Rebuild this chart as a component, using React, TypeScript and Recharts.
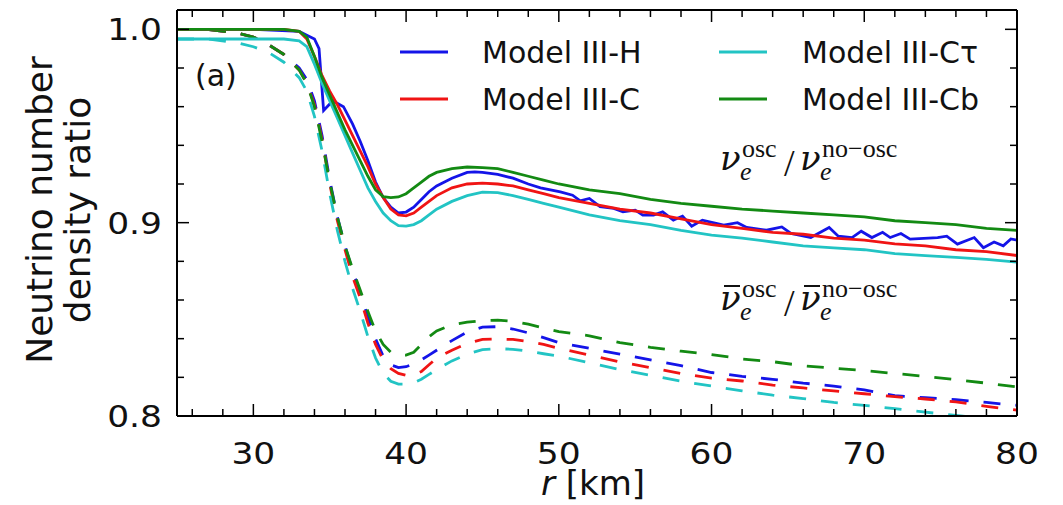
import React from "react";
import { LineChart, Line, XAxis, YAxis } from "recharts";

// radius grid shared by the smooth curves
const rGrid = [
  25, 27, 29, 30, 31, 32, 33,
  33.5, 34, 34.5, 35, 35.5, 36, 36.5, 37, 37.5, 38, 38.5, 39, 39.5, 40, 40.5, 41, 41.5, 42,
  43, 44, 45, 46, 47, 48, 49, 50,
  52, 54, 56, 58, 60, 62, 64, 66, 68, 70, 72, 74, 76, 78, 80,
];

// Model III-H nu_e is noisy, so it keeps its own sampling
const rH = [
  25, 30, 33, 33.5, 34, 34.3, 34.6, 35.2, 35.9, 36.5, 37, 37.5, 38, 38.5, 39, 39.5, 40, 40.5,
  41, 41.5, 42, 43, 44, 44.5, 45, 46, 47, 48, 48.8, 50.1, 50.9, 51.4, 52, 52.7, 53.6, 54.2,
  55, 55.5, 56.2, 56.8, 57.5, 58.1, 58.7, 59.4, 60.8, 61.7, 62.3, 63.6, 64.6, 65.2, 66.5,
  67.7, 68.3, 69.2, 69.8, 70.5, 71.2, 71.7, 72.4, 73, 74.8, 75.4, 76.1, 77.2, 77.8, 78.5,
  79.1, 79.6, 80,
];
const nuH = [
  1.0, 1.0, 0.999, 0.997, 0.995, 0.99, 0.958, 0.963, 0.96, 0.951, 0.942, 0.932, 0.921, 0.913,
  0.908, 0.905, 0.9055, 0.908, 0.912, 0.916, 0.919, 0.923, 0.926, 0.9263, 0.926, 0.925, 0.923,
  0.92, 0.918, 0.9159, 0.9142, 0.9113, 0.9125, 0.9083, 0.9074, 0.9056, 0.9065, 0.9039, 0.9039,
  0.9056, 0.9013, 0.9034, 0.8982, 0.9013, 0.8987, 0.9, 0.8975, 0.8961, 0.8978, 0.8944, 0.8923,
  0.8975, 0.893, 0.8923, 0.8956, 0.8923, 0.895, 0.8923, 0.8944, 0.8915, 0.8923, 0.893, 0.8889,
  0.8923, 0.887, 0.89, 0.888, 0.8916, 0.891,
];

const nuC = [
  1.0, 1.0, 1.0, 1.0, 1.0, 1.0, 0.999,
  0.995, 0.986, 0.976, 0.968, 0.961, 0.953, 0.945, 0.937, 0.929, 0.92, 0.913, 0.907, 0.904, 0.9035, 0.905, 0.908, 0.911, 0.914,
  0.918, 0.92, 0.9205, 0.92, 0.919, 0.917, 0.915, 0.913,
  0.91, 0.907, 0.905, 0.902, 0.899, 0.897, 0.895, 0.894, 0.892, 0.891, 0.889, 0.888, 0.886, 0.885, 0.883,
];
const nuCt = [
  0.995, 0.995, 0.995, 0.995, 0.995, 0.995, 0.994,
  0.991, 0.982, 0.972, 0.963, 0.954, 0.945, 0.936, 0.927, 0.918, 0.911, 0.905, 0.901, 0.8985, 0.8982, 0.899, 0.901, 0.904, 0.907,
  0.911, 0.914, 0.9158, 0.9155, 0.914, 0.912, 0.91, 0.908,
  0.904, 0.901, 0.899, 0.896, 0.8935, 0.892, 0.89, 0.888, 0.887, 0.886, 0.884, 0.883, 0.882, 0.881, 0.8796,
];
const nuCb = [
  1.0, 1.0, 1.0, 1.0, 1.0, 1.0, 0.999,
  0.996, 0.986, 0.975, 0.966, 0.957, 0.948, 0.94, 0.932, 0.924, 0.917, 0.9135, 0.913, 0.9133, 0.915, 0.918, 0.921, 0.924, 0.926,
  0.928, 0.9288, 0.9285, 0.928, 0.926, 0.924, 0.922, 0.92,
  0.917, 0.915, 0.912, 0.91, 0.9085, 0.907, 0.906, 0.905, 0.904, 0.903, 0.901, 0.9, 0.899, 0.897, 0.896,
];

// anti-neutrino ratios
const nuBarH = [
  1.0, 1.0, 0.998, 0.996, 0.992, 0.987, 0.98,
  0.974, 0.963, 0.945, 0.922, 0.903, 0.888, 0.875, 0.864, 0.851, 0.84, 0.831, 0.8265, 0.825, 0.8255, 0.827, 0.829, 0.8315, 0.834,
  0.839, 0.8435, 0.846, 0.8462, 0.845, 0.843, 0.8405, 0.838,
  0.835, 0.832, 0.829, 0.826, 0.8225, 0.8205, 0.819, 0.817, 0.8155, 0.8135, 0.8105, 0.8095, 0.8085, 0.807, 0.8055,
];
const nuBarC = [
  1.0, 1.0, 0.998, 0.996, 0.992, 0.987, 0.979,
  0.972, 0.961, 0.943, 0.92, 0.901, 0.886, 0.872, 0.861, 0.848, 0.837, 0.829, 0.8245, 0.822, 0.821, 0.8212, 0.823, 0.8265, 0.83,
  0.834, 0.8375, 0.8396, 0.8398, 0.8396, 0.8385, 0.837, 0.835,
  0.8315, 0.828, 0.825, 0.822, 0.8196, 0.8181, 0.816, 0.8145, 0.813, 0.8115, 0.81, 0.8088, 0.8073, 0.805, 0.803,
];
const nuBarCt = [
  0.995, 0.995, 0.993, 0.991, 0.988, 0.983, 0.975,
  0.968, 0.955, 0.937, 0.915, 0.896, 0.88, 0.866, 0.854, 0.841, 0.83, 0.822, 0.818, 0.8165, 0.8165, 0.8172, 0.819, 0.8215, 0.824,
  0.8285, 0.832, 0.8343, 0.8348, 0.8345, 0.8335, 0.8322, 0.831,
  0.8275, 0.824, 0.821, 0.818, 0.8155, 0.813, 0.8108, 0.809, 0.807, 0.8055, 0.8038, 0.802, 0.8003, 0.7985, 0.797,
];
const nuBarCb = [
  1.0, 1.0, 0.998, 0.996, 0.992, 0.987, 0.979,
  0.972, 0.96, 0.942, 0.921, 0.903, 0.888, 0.876, 0.865, 0.854, 0.844, 0.837, 0.833, 0.8317, 0.8315, 0.833, 0.837, 0.841, 0.844,
  0.8472, 0.8485, 0.8494, 0.8496, 0.849, 0.8475, 0.8455, 0.8436,
  0.8415, 0.838, 0.8355, 0.8335, 0.8318, 0.8295, 0.8281, 0.826, 0.8247, 0.8235, 0.822, 0.8205, 0.8188, 0.817, 0.815,
];

const xTicks = [26, 28, 30, 32, 34, 36, 38, 40, 42, 44, 46, 48, 50, 52, 54, 56, 58, 60, 62, 64, 66, 68, 70, 72, 74, 76, 78, 80];
const xLabels = [30, 40, 50, 60, 70, 80];
const yTicks = [0.8, 0.82, 0.84, 0.86, 0.88, 0.9, 0.92, 0.94, 0.96, 0.98, 1.0];
const yLabels = [0.8, 0.9, 1.0];

const models = [
  { name: "Model III-H", color: "#1414e8", r: rH, nu: nuH, nuBar: nuBarH },
  { name: "Model III-C", color: "#f01414", r: rGrid, nu: nuC, nuBar: nuBarC },
  { name: "Model III-C\u03c4", color: "#22c4c4", r: rGrid, nu: nuCt, nuBar: nuBarCt },
  { name: "Model III-Cb", color: "#138a13", r: rGrid, nu: nuCb, nuBar: nuBarCb },
];

const W = 1063;
const H = 505;
const SANS = "'DejaVu Sans', sans-serif";
const SERIF = "'Liberation Serif', serif";
const GREEK = "'DejaVu Serif', serif";
const MAJOR = 12;
const MINOR = 7;

const rows = (r: number[], v: number[]) => r.map((x, i) => ({ r: x, v: v[i] }));

const BottomTick = (p: any) => {
  const major = xLabels.includes(p.payload.value);
  return (
    <g>
      <line x1={p.x} x2={p.x} y1={p.y} y2={p.y - (major ? MAJOR : MINOR)} stroke="#000" strokeWidth={1.5} />
      {major && (
        <text
          transform={`translate(${p.x} ${p.y + 48}) scale(1.15 1)`}
          textAnchor="middle"
          fontFamily={SANS}
          fontSize={30}
          fill="#111"
        >
          {p.payload.value}
        </text>
      )}
    </g>
  );
};

const TopTick = (p: any) => {
  const major = xLabels.includes(p.payload.value);
  return <line x1={p.x} x2={p.x} y1={p.y} y2={p.y + (major ? MAJOR : MINOR)} stroke="#000" strokeWidth={1.5} />;
};

const LeftTick = (p: any) => {
  const major = yLabels.includes(p.payload.value);
  return (
    <g>
      <line x1={p.x} x2={p.x + (major ? MAJOR : MINOR)} y1={p.y} y2={p.y} stroke="#000" strokeWidth={1.5} />
      {major && (
        <text
          transform={`translate(${p.x - 15} ${p.y + 11}) scale(1.15 1)`}
          textAnchor="end"
          fontFamily={SANS}
          fontSize={30}
          fill="#111"
        >
          {p.payload.value.toFixed(1)}
        </text>
      )}
    </g>
  );
};

const RightTick = (p: any) => {
  const major = yLabels.includes(p.payload.value);
  return <line x1={p.x} x2={p.x - (major ? MAJOR : MINOR)} y1={p.y} y2={p.y} stroke="#000" strokeWidth={1.5} />;
};

// nu_e^{osc} / nu_e^{no-osc}, optionally with bars over the nu
const Ratio = ({ x, y, bar }: { x: number; y: number; bar?: boolean }) => (
  <g fill="#111">
    <text y={y} fontFamily={SERIF}>
      <tspan x={x} fontFamily={GREEK} fontSize={34} fontStyle="italic">{"\u03bd"}</tspan>
      <tspan x={x + 22} y={y - 13} fontSize={26}>osc</tspan>
      <tspan x={x + 20} y={y + 10} fontSize={26} fontStyle="italic">e</tspan>
      <tspan x={x + 64} y={y + 6} fontSize={38}>/</tspan>
      <tspan x={x + 80} y={y} fontFamily={GREEK} fontSize={34} fontStyle="italic">{"\u03bd"}</tspan>
      <tspan x={x + 102} y={y - 13} fontSize={26}>no{"\u2212"}osc</tspan>
      <tspan x={x + 100} y={y + 10} fontSize={26} fontStyle="italic">e</tspan>
    </text>
    {bar && (
      <g stroke="#111" strokeWidth={2}>
        <line x1={x + 4} x2={x + 20} y1={y - 24} y2={y - 24} />
        <line x1={x + 84} x2={x + 100} y1={y - 24} y2={y - 24} />
      </g>
    )}
  </g>
);

const legendPos = [
  { lx: 400, tx: 482, y: 52 },
  { lx: 400, tx: 482, y: 99 },
  { lx: 719, tx: 802, y: 52 },
  { lx: 719, tx: 802, y: 99 },
];

export default function App() {
  return (
    <div style={{ position: "absolute", left: 0, top: 0, width: W, height: H, background: "#fff" }}>
      <LineChart width={W} height={H} margin={{ top: 0, right: 0, bottom: 0, left: 0 }}>
        <XAxis
          xAxisId="b"
          dataKey="r"
          type="number"
          domain={[25, 80]}
          allowDataOverflow
          ticks={xTicks}
          interval={0}
          height={89}
          tickSize={0}
          tickMargin={0}
          tickLine={false}
          tick={BottomTick}
          axisLine={{ stroke: "#000", strokeWidth: 2 }}
        />
        <XAxis
          xAxisId="t"
          orientation="top"
          dataKey="r"
          type="number"
          domain={[25, 80]}
          allowDataOverflow
          ticks={xTicks}
          interval={0}
          height={10}
          tickSize={0}
          tickMargin={0}
          tickLine={false}
          tick={TopTick}
          axisLine={{ stroke: "#000", strokeWidth: 2 }}
        />
        <YAxis
          yAxisId="l"
          type="number"
          domain={[0.8, 1.01]}
          allowDataOverflow
          ticks={yTicks}
          interval={0}
          width={177}
          tickSize={0}
          tickMargin={0}
          tickLine={false}
          tick={LeftTick}
          axisLine={{ stroke: "#000", strokeWidth: 2 }}
        />
        <YAxis
          yAxisId="r"
          orientation="right"
          type="number"
          domain={[0.8, 1.01]}
          allowDataOverflow
          ticks={yTicks}
          interval={0}
          width={46}
          tickSize={0}
          tickMargin={0}
          tickLine={false}
          tick={RightTick}
          axisLine={{ stroke: "#000", strokeWidth: 2 }}
        />
        {models.map((m) => (
          <Line
            key={m.name + "-bar"}
            xAxisId="b"
            yAxisId="l"
            data={rows(rGrid, m.nuBar)}
            dataKey="v"
            type="linear"
            stroke={m.color}
            strokeWidth={2.8}
            strokeDasharray="17 15"
            dot={false}
            activeDot={false}
            isAnimationActive={false}
          />
        ))}
        {models.map((m) => (
          <Line
            key={m.name}
            xAxisId="b"
            yAxisId="l"
            data={rows(m.r, m.nu)}
            dataKey="v"
            type="linear"
            stroke={m.color}
            strokeWidth={2.8}
            dot={false}
            activeDot={false}
            isAnimationActive={false}
          />
        ))}
      </LineChart>
      <svg width={W} height={H} style={{ position: "absolute", left: 0, top: 0, pointerEvents: "none" }}>
        <text x={195} y={86} fontFamily={SANS} fontSize={30} fill="#111">(a)</text>
        {models.map((m, i) => (
          <g key={m.name}>
            <line x1={legendPos[i].lx} x2={legendPos[i].lx + 48} y1={legendPos[i].y} y2={legendPos[i].y} stroke={m.color} strokeWidth={3} />
            <text x={legendPos[i].tx} y={legendPos[i].y + 11} fontFamily={SANS} fontSize={30} fill="#111">{m.name}</text>
          </g>
        ))}
        <Ratio x={720} y={170} />
        <Ratio x={720} y={310} bar />
        <text transform="translate(52 210) rotate(-90)" textAnchor="middle" fontFamily={SANS} fontSize={36} fill="#111">
          Neutrino number
        </text>
        <text transform="translate(90 210) rotate(-90)" textAnchor="middle" fontFamily={SANS} fontSize={36} fill="#111">
          density ratio
        </text>
        <text x={593} y={495} textAnchor="middle" fontFamily={SANS} fontSize={34} fill="#111">
          <tspan fontStyle="italic">r</tspan> [km]
        </text>
      </svg>
    </div>
  );
}
